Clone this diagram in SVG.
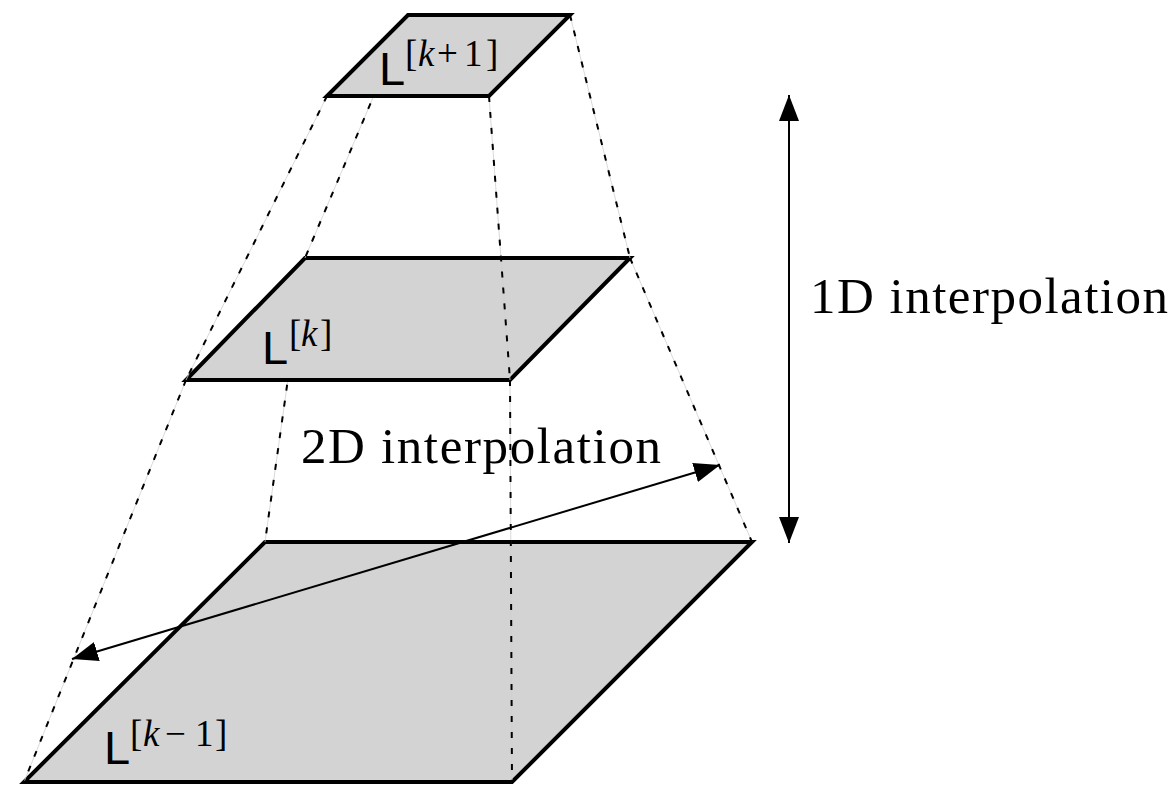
<svg xmlns="http://www.w3.org/2000/svg" width="1176" height="785" viewBox="0 0 1176 785">
<defs>
<marker id="ah" markerUnits="userSpaceOnUse" markerWidth="28" markerHeight="22" viewBox="0 0 28 22" refX="26" refY="11" orient="auto-start-reverse">
<path d="M0,1 L26,11 L0,21 Z" fill="#000"/>
</marker>
<style>
.plane{fill:#d3d3d3;stroke:#000;stroke-width:4;stroke-linejoin:miter}
.guide{stroke:#cfcfcf;stroke-width:0.8;fill:none}
.dash{stroke:#000;stroke-width:2;stroke-dasharray:6 10;fill:none}
.arrow{stroke:#000;stroke-width:2;fill:none}
.txt{font-family:"Liberation Serif",serif;font-size:51px;fill:#000}
.L{font-family:"Liberation Sans",sans-serif;font-size:47px;fill:#000}
.sup{font-family:"Liberation Serif",serif;font-size:37px;fill:#000}
.it{font-style:italic}
</style>
</defs>
<rect width="1176" height="785" fill="#fff"/>

<g id="plane-bottom">
<polygon class="plane" points="265,542 752,542 512,782 24,782"/>
</g>

<g id="connectors-lower">
<line class="guide" x1="510" y1="380" x2="512" y2="782"/>
<line class="dash" x1="510" y1="380" x2="512" y2="782"/>
<line class="guide" x1="186" y1="380" x2="24" y2="782"/>
<line class="dash" x1="186" y1="380" x2="24" y2="782"/>
<line class="guide" x1="305" y1="258" x2="265" y2="542"/>
<line class="dash" x1="305" y1="258" x2="265" y2="542"/>
<line class="guide" x1="630" y1="258" x2="752" y2="542"/>
<line class="dash" x1="630" y1="258" x2="752" y2="542"/>
</g>

<g id="plane-middle">
<polygon class="plane" points="305,258 630,258 510,380 186,380"/>
</g>

<g id="connectors-upper">
<line class="guide" x1="489" y1="96" x2="510" y2="380"/>
<line class="dash" x1="489" y1="96" x2="510" y2="380"/>
<line class="guide" x1="327" y1="96" x2="186" y2="380"/>
<line class="dash" x1="327" y1="96" x2="186" y2="380"/>
<line class="guide" x1="408" y1="15" x2="305" y2="258"/>
<line class="dash" x1="408" y1="15" x2="305" y2="258"/>
<line class="guide" x1="570" y1="15" x2="630" y2="258"/>
<line class="dash" x1="570" y1="15" x2="630" y2="258"/>
</g>

<g id="plane-top">
<polygon class="plane" points="408,15 570,15 489,96 327,96"/>
</g>

<g id="labels-planes">
<text class="L" x="379" y="85">L</text>
<text class="sup" y="66"><tspan x="405">[</tspan><tspan class="it" x="418">k</tspan><tspan x="437">+</tspan><tspan x="464">1</tspan><tspan x="486">]</tspan></text>
<text class="L" x="262" y="364">L</text>
<text class="sup" y="346"><tspan x="289">[</tspan><tspan class="it" x="301">k</tspan><tspan x="320">]</tspan></text>
<text class="L" x="104" y="764">L</text>
<text class="sup" y="746"><tspan x="130">[</tspan><tspan class="it" x="143">k</tspan><tspan x="165">−</tspan><tspan x="195">1</tspan><tspan x="215">]</tspan></text>
</g>

<g id="connectors-arrows">
<line class="arrow" x1="789" y1="95" x2="789" y2="543" marker-start="url(#ah)" marker-end="url(#ah)"/>
<line class="arrow" x1="72" y1="659" x2="720" y2="465" marker-start="url(#ah)" marker-end="url(#ah)"/>
</g>

<g id="label-1d">
<text class="txt" x="810" y="313" textLength="358" lengthAdjust="spacing">1D interpolation</text>
</g>
<g id="label-2d">
<text class="txt" x="301" y="463" textLength="360" lengthAdjust="spacing">2D interpolation</text>
</g>
</svg>
